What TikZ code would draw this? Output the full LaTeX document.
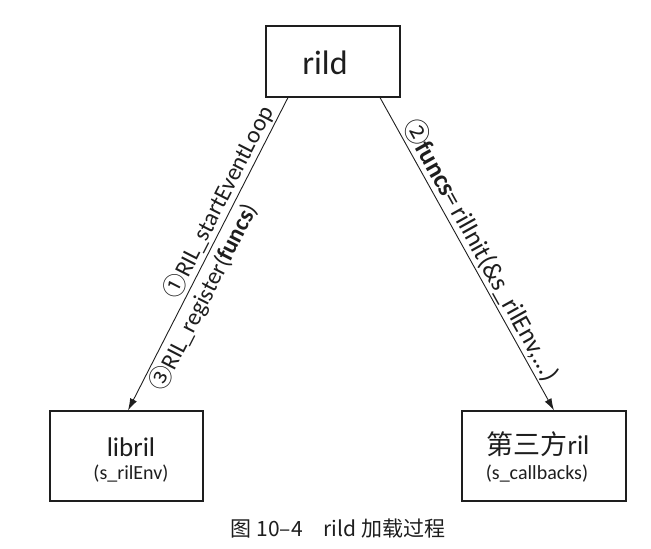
\documentclass[tikz,border=0pt]{standalone}
\usepackage{fontspec}
\setmainfont{Carlito}
\newfontfamily\cjk{Noto Sans CJK SC}
\usetikzlibrary{arrows.meta}
\definecolor{ink}{HTML}{1E1E1E}
\tikzset{
  box/.style={draw=ink, line width=1.1pt, inner sep=0pt},
  conn/.style={draw=ink, line width=0.9pt, -{Latex[length=12pt,width=7.5pt]}},
  elab/.style={text=ink, inner sep=0pt, font=\fontsize{24}{26}\selectfont},
  txt/.style={text=ink, inner sep=0pt, anchor=base}
}
\begin{document}
\begin{tikzpicture}[x=1pt,y=1pt]
\useasboundingbox (0,0) rectangle (651,549);
% boxes
\node[box, minimum width=134pt, minimum height=71pt] (rild) at (333,487.5) {};
\node[box, minimum width=153pt, minimum height=90pt] (libril) at (126.5,93) {};
\node[box, minimum width=164pt, minimum height=90pt] (third) at (544,93) {};
% box texts
\node[txt, font=\fontsize{34}{36}\selectfont] (rildt) at (325,474) {rild};
\node[txt, font=\fontsize{27}{29}\selectfont] (librilt) at (131,92) {libril};
\node[txt, font=\fontsize{20}{22}\selectfont] (librils) at (131,69) {(s\_rilEnv)};
\node[txt, font=\fontsize{27}{29}\selectfont] (thirdt) at (538,94) {{\cjk 第三方}ril};
\node[txt, font=\fontsize{20}{22}\selectfont] (thirds) at (537,69) {(s\_callbacks)};
% connectors
\draw[conn] ([xshift=-45pt]rild.south) --
  node[elab, sloped, above=2pt, pos=0.355] (l1) {{\cjk ①}RIL\_startEventLoop}
  node[elab, sloped, below=3pt, pos=0.615] (l3) {{\cjk ③}RIL\_register(\textbf{funcs})}
  ([xshift=1.5pt]libril.north);
\draw[conn] ([xshift=47pt]rild.south) --
  node[elab, sloped, above=2pt, pos=0.51, font=\fontsize{26}{28}\selectfont] (l2) {{\cjk ②}\textbf{funcs}=\hspace{0.15em}rilInit(\&s\_rilEnv,...)}
  ([xshift=10pt]third.north);
% caption
\node[txt, font=\cjk\fontsize{21}{23}\selectfont] (cap) at (338,12) {图 10–4\quad rild 加载过程};
\end{tikzpicture}
\end{document}
